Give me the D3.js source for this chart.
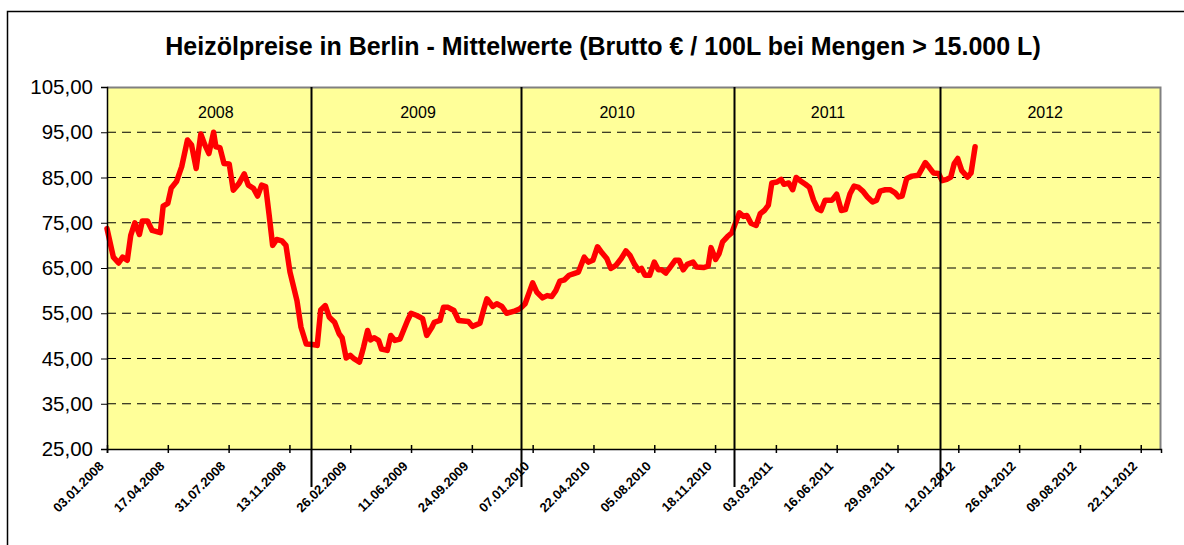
<!DOCTYPE html>
<meta charset="utf-8">
<title>Heizölpreise Berlin</title>
<head>
  <script src="https://d3js.org/d3.v7.min.js"></script>
  <style>
    body { margin: 0; background: #fff; }
    text { font-family: Arial, "Liberation Sans", sans-serif; }
  </style>
</head>
<body>
<div id="chart"></div>
<script>
    // data: days since 03.01.2008 and price (EUR / 100 L)
    var startLabel = "03.01.2008";
    var dayOffsets = [
      0,11,20,27,35,41,48,56,61,70,
      78,92,97,105,111,120,129,139,146,154,
      162,169,176,184,188,195,202,211,218,228,
      237,244,253,260,267,274,280,286,293,302,
      309,316,328,335,344,355,363,369,377,384,
      393,401,406,413,420,427,436,443,450,455,
      461,469,474,484,490,497,506,513,519,525,
      535,545,552,561,565,575,581,589,599,607,
      624,631,644,650,656,666,673,682,690,702,
      713,722,735,742,752,760,768,775,782,790,
      798,805,814,824,831,839,847,855,863,870,
      879,888,896,903,911,918,923,929,937,945,
      952,958,965,972,981,988,995,1002,1012,1018,
      1030,1038,1043,1051,1057,1063,1071,1079,1086,1092,
      1099,1105,1112,1121,1128,1135,1142,1148,1157,1164,
      1169,1177,1184,1190,1197,1206,1213,1220,1227,1233,
      1240,1252,1260,1268,1275,1283,1290,1298,1305,1313,
      1322,1329,1335,1344,1352,1361,1367,1373,1381,1390,
      1401,1413,1420,1427,1436,1442,1450,1457,1463,1469,
      1476,1486,1492,1499
    ];
    var prices = [
      73.7,67.4,66.1,67.4,66.7,72.2,75.0,72.4,75.4,75.4,
      73.3,72.8,78.7,79.3,82.7,84.1,87.4,93.3,92.2,87.0,
      94.6,92.2,90.3,95.0,91.8,91.6,88.1,88.0,82.2,83.7,
      85.8,83.3,82.6,80.9,83.3,83.0,76.7,70.0,71.3,71.0,
      70.0,64.1,57.8,51.9,48.2,48.1,47.9,55.7,56.7,54.1,
      53.0,50.4,49.6,45.1,45.7,44.9,44.2,47.5,51.2,49.1,
      49.6,49.0,47.1,46.8,50.1,49.0,49.3,51.5,53.4,55.0,
      54.5,53.8,50.1,51.9,53.0,53.4,56.3,56.3,55.6,53.4,
      53.2,52.1,52.8,55.6,58.2,56.5,57.1,56.5,55.0,55.4,
      56.0,57.1,61.7,59.7,58.4,58.9,58.7,60.0,62.1,62.4,
      63.4,63.7,64.1,67.4,66.3,66.7,69.7,68.3,67.1,64.9,
      65.6,67.1,68.8,67.8,65.8,64.5,64.9,63.4,63.4,66.3,
      64.6,64.6,63.9,65.1,66.7,66.7,64.6,65.8,66.3,65.2,
      65.1,65.4,69.5,66.9,68.2,70.8,71.9,72.8,75.2,77.2,
      76.4,76.6,74.9,74.4,77.0,77.7,78.9,83.8,84.0,84.6,
      83.5,83.8,82.3,85.0,84.3,83.5,82.8,80.0,78.1,77.7,
      80.0,80.0,81.3,77.7,77.9,81.4,83.1,82.8,82.0,80.7,
      79.6,80.0,82.0,82.3,82.3,81.6,80.7,80.9,84.8,85.3,
      85.5,88.3,87.2,86.0,85.9,84.3,84.6,85.1,88.1,89.2,
      86.5,85.1,86.0,91.8
    ];

    var tickLabels = ["03.01.2008","17.04.2008","31.07.2008","13.11.2008","26.02.2009",
      "11.06.2009","24.09.2009","07.01.2010","22.04.2010","05.08.2010","18.11.2010",
      "03.03.2011","16.06.2011","29.09.2011","12.01.2012","26.04.2012","09.08.2012","22.11.2012"];
    var yTicks = [25, 35, 45, 55, 65, 75, 85, 95, 105];

    var yearNames = ["2008", "2009", "2010", "2011", "2012"];
    var yearLabelDates = ["09.07.2008", "23.06.2009", "02.06.2010", "01.06.2011", "10.06.2012"];
    var yearBreaks = ["20.12.2008", "18.12.2009", "20.12.2010", "11.12.2011"];
    var axisEnd = "27.12.2012";

    var title = "Heizölpreise in Berlin - Mittelwerte (Brutto € / 100L bei Mengen > 15.000 L)";

    var W = 1184, H = 545;
    var margin = {top: 87, right: 23, bottom: 96, left: 107};
    var width = W - margin.left - margin.right,
        height = H - margin.top - margin.bottom;

    var parse = d3.timeParse("%d.%m.%Y");
    var start = parse(startLabel);
    var data = dayOffsets.map(function(d, i) {
      return {date: d3.timeDay.offset(start, d), value: prices[i]};
    });

    var svg = d3.select("#chart").append("svg")
        .attr("width", W).attr("height", H);

    // chart frame
    svg.append("rect")
        .attr("x", 7.5).attr("y", 11.5)
        .attr("width", W + 20).attr("height", H + 20)
        .attr("fill", "none").attr("stroke", "#000").attr("stroke-width", 1.5);

    svg.append("text")
        .attr("x", 603).attr("y", 55)
        .attr("text-anchor", "middle")
        .style("font-size", "25px").style("font-weight", "bold")
        .text(title);

    var g = svg.append("g")
        .attr("transform", "translate(" + margin.left + "," + margin.top + ")");

    var x = d3.scaleTime()
        .domain([start, parse(axisEnd)])
        .range([0, width]);
    var y = d3.scaleLinear()
        .domain([25, 105])
        .range([height, 0]);

    // plot background
    g.append("rect")
        .attr("width", width).attr("height", height)
        .attr("fill", "#ffff99");

    // dashed grid
    g.selectAll(".grid")
        .data(yTicks.filter(function(d) { return d > 25 && d < 105; }))
        .enter().append("line")
        .attr("x1", 0).attr("x2", width)
        .attr("y1", function(d) { return y(d); })
        .attr("y2", function(d) { return y(d); })
        .attr("stroke", "#000").attr("stroke-width", 1)
        .attr("stroke-dasharray", "9,6");

    // plot border top / right
    g.append("path")
        .attr("d", "M0,0.5H" + (width - 0.5) + "V" + height)
        .attr("fill", "none").attr("stroke", "#808080").attr("stroke-width", 2);

    // price line
    var line = d3.line()
        .x(function(d) { return x(d.date); })
        .y(function(d) { return y(d.value); });
    g.append("path")
        .datum(data)
        .attr("d", line)
        .attr("fill", "none")
        .attr("stroke", "#ff0000")
        .attr("stroke-width", 5.5)
        .attr("stroke-linejoin", "round")
        .attr("stroke-linecap", "round");

    // year separators
    g.selectAll(".yearline")
        .data(yearBreaks)
        .enter().append("line")
        .attr("x1", function(d) { return Math.round(x(parse(d))) + 0.5; })
        .attr("x2", function(d) { return Math.round(x(parse(d))) + 0.5; })
        .attr("y1", 0).attr("y2", height + 38)
        .attr("stroke", "#000").attr("stroke-width", 2);

    g.selectAll(".yearlabel")
        .data(yearNames)
        .enter().append("text")
        .attr("x", function(d, i) { return x(parse(yearLabelDates[i])); })
        .attr("y", 31)
        .attr("text-anchor", "middle")
        .style("font-size", "16px")
        .text(function(d) { return d; });

    // y axis
    var de = d3.formatLocale({decimal: ",", thousands: ".", grouping: [3], currency: ["", " €"]});
    var yAxis = g.append("g")
        .call(d3.axisLeft(y).tickValues(yTicks).tickSize(6).tickPadding(8).tickFormat(de.format(".2f")));
    yAxis.select(".domain").attr("stroke", "#000").attr("stroke-width", 1.5);
    yAxis.selectAll("text").style("font-size", "20.5px").attr("fill", "#000")
        .style("font-family", "Arial, 'Liberation Sans', sans-serif");

    // x axis
    var xAxis = g.append("g")
        .attr("transform", "translate(0," + height + ")")
        .call(d3.axisBottom(x).tickValues(tickLabels.map(parse)).tickSize(4).tickFormat(d3.timeFormat("%d.%m.%Y")));
    xAxis.select(".domain").attr("stroke", "#000").attr("stroke-width", 1.5);
    xAxis.selectAll(".tick line").attr("y1", -4).attr("stroke-width", 1.5);
    xAxis.selectAll("text")
        .attr("text-anchor", "end")
        .attr("dy", 0)
        .attr("y", 0)
        .attr("transform", "translate(-3,18) rotate(-45)")
        .style("font-size", "13px").style("font-weight", "bold")
        .style("font-family", "Arial, 'Liberation Sans', sans-serif")
        .attr("fill", "#000");
</script>
</body>
